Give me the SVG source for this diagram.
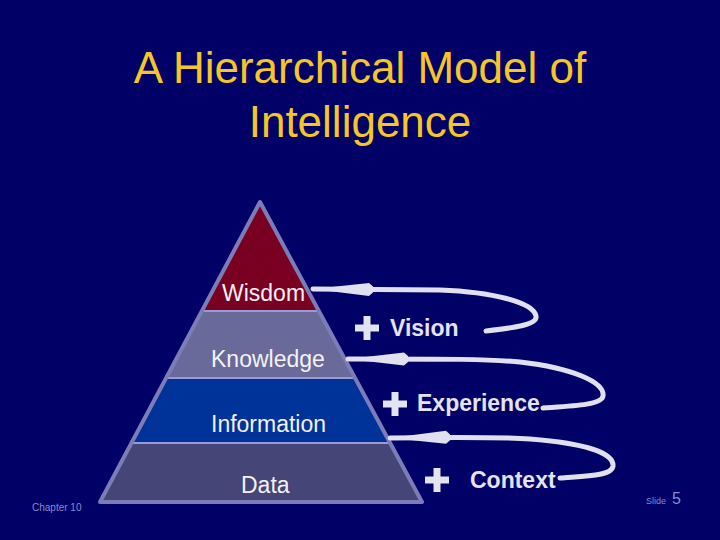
<svg xmlns="http://www.w3.org/2000/svg" width="720" height="540" viewBox="0 0 720 540">
  <style>
    .title { font-family: "Liberation Sans", Arial, sans-serif; font-size: 44px; fill: #F5C628; text-anchor: middle; }
    .lvl { font-family: "Liberation Sans", Arial, sans-serif; font-size: 23px; fill: #F2F2F2; }
    .side { font-family: "Liberation Sans", Arial, sans-serif; font-size: 23px; font-weight: bold; fill: #E4E4F0; }
    .foot { font-family: "Liberation Sans", Arial, sans-serif; fill: #8A8AD0; }
    .band { stroke: none; }
    .divider { stroke: #9A9AD8; stroke-width: 2; fill: none; }
    .outline { fill: none; stroke: #7C7CB8; stroke-width: 4; stroke-linejoin: round; }
    .conn { fill: none; stroke: #E0E0EE; stroke-width: 5; stroke-linecap: round; marker-end: url(#dart); }
    .plus { fill: #E4E4F0; }
  </style>
  <defs>
    <marker id="dart" markerUnits="userSpaceOnUse" viewBox="0 -7 60 14" refX="60" refY="0" markerWidth="60" markerHeight="14" orient="auto">
      <polygon points="60,0 4,-6.5 0,-3 0,3 4,6.5" fill="#E0E0EE"/>
    </marker>
    <path id="plus" d="M-3.5,-12 h7 v8.5 h8.5 v7 h-8.5 v8.5 h-7 v-8.5 h-8.5 v-7 h8.5 z"/>
  </defs>

  <rect x="0" y="0" width="720" height="540" fill="#000066"/>

  <g id="title">
    <text class="title" x="360" y="83">A Hierarchical Model of</text>
    <text class="title" x="360" y="137">Intelligence</text>
  </g>

  <g id="node-wisdom">
    <polygon class="band" points="260,202 201.9,311 318.9,311" fill="#7A0022"/>
    <text class="lvl" x="222" y="301">Wisdom</text>
  </g>
  <g id="node-knowledge">
    <polygon class="band" points="201.9,311 318.9,311 355.1,378 166.1,378" fill="#69699A"/>
    <text class="lvl" x="211" y="367">Knowledge</text>
  </g>
  <g id="node-information">
    <polygon class="band" points="166.1,378 355.1,378 390.2,443 131.5,443" fill="#003399"/>
    <text class="lvl" x="211" y="432">Information</text>
  </g>
  <g id="node-data">
    <polygon class="band" points="131.5,443 390.2,443 422,502 100,502" fill="#454578"/>
    <text class="lvl" x="241" y="493">Data</text>
  </g>
  <g id="pyramid-lines">
    <line class="divider" x1="201.9" y1="311" x2="318.9" y2="311"/>
    <line class="divider" x1="166.1" y1="378" x2="355.1" y2="378"/>
    <line class="divider" x1="131.5" y1="443" x2="390.2" y2="443"/>
    <polygon class="outline" points="260,202 422,502 100,502"/>
  </g>

  <g id="connectors">
    <path class="conn" d="M 486,331 C 512,328 538,325 536,316 C 533,302 492,292 440,290 L 313,289"/>
    <path class="conn" d="M 543,408 C 572,406 602,405 603,396 C 605,382 572,368 520,362 C 490,359 450,359 348,359"/>
    <path class="conn" d="M 560,478 C 586,476 612,476 613,466 C 614,452 582,443 530,439 C 500,437 460,437 390,438"/>
  </g>

  <g id="label-vision">
    <use href="#plus" class="plus" x="367" y="328"/>
    <text class="side" x="390" y="336">Vision</text>
  </g>
  <g id="label-experience">
    <use href="#plus" class="plus" x="395" y="404"/>
    <text class="side" x="417" y="411">Experience</text>
  </g>
  <g id="label-context">
    <use href="#plus" class="plus" x="437" y="480"/>
    <text class="side" x="470" y="488">Context</text>
  </g>

  <g id="footer">
    <text class="foot" x="32" y="511" font-size="10">Chapter 10</text>
    <text class="foot" x="646" y="504" font-size="9">Slide</text>
    <text class="foot" x="672" y="504" font-size="16">5</text>
  </g>
</svg>
